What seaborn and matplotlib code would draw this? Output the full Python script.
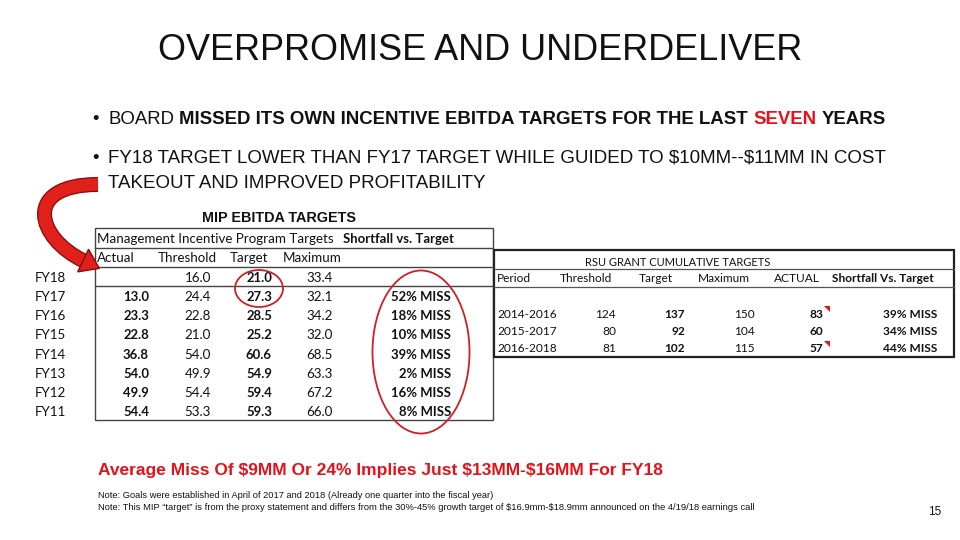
import matplotlib
matplotlib.use("Agg")
import numpy as np
import matplotlib.pyplot as plt
from matplotlib.patches import Rectangle, Ellipse, Polygon, PathPatch
from matplotlib.path import Path
import seaborn as sns

# ---------------- data ----------------
mip_years = ["FY18", "FY17", "FY16", "FY15", "FY14", "FY13", "FY12", "FY11"]
mip_actual = [None, 13.0, 23.3, 22.8, 36.8, 54.0, 49.9, 54.4]
mip_threshold = [16.0, 24.4, 22.8, 21.0, 54.0, 49.9, 54.4, 53.3]
mip_target = [21.0, 27.3, 28.5, 25.2, 60.6, 54.9, 59.4, 59.3]
mip_maximum = [33.4, 32.1, 34.2, 32.0, 68.5, 63.3, 67.2, 66.0]
mip_shortfall = [None, 52, 18, 10, 39, 2, 16, 8]

rsu_periods = ["2014-2016", "2015-2017", "2016-2018"]
rsu_threshold = [124, 80, 81]
rsu_target = [137, 92, 102]
rsu_maximum = [150, 104, 115]
rsu_actual = [83, 60, 57]
rsu_shortfall = [39, 34, 44]
rsu_flagged = [True, False, True]

title = "OVERPROMISE AND UNDERDELIVER"
bullet1 = [("BOARD ", "normal", "k"),
           ("MISSED ITS OWN INCENTIVE EBITDA TARGETS FOR THE LAST ", "bold", "k"),
           ("SEVEN", "bold", "red"),
           (" YEARS", "bold", "k")]
bullet2a = "FY18 TARGET LOWER THAN FY17 TARGET WHILE GUIDED TO $10MM--$11MM IN COST"
bullet2b = "TAKEOUT AND IMPROVED PROFITABILITY"
headline = "Average Miss Of $9MM Or 24% Implies Just $13MM-$16MM For FY18"
note1 = "Note: Goals were established in April of 2017 and 2018 (Already one quarter into the fiscal year)"
note2 = ("Note: This MIP \u201ctarget\u201d is from the proxy statement and differs from the 30%-45% "
         "growth target of $16.9mm-$18.9mm announced on the 4/19/18 earnings call")
page_no = "15"

# ---------------- style ----------------
sns.set_theme(style="white")
plt.rcParams["font.family"] = ["Liberation Sans", "DejaVu Sans"]
RED = "#E3131B"
TXT = "#111111"
TFONT = ["Lato", "DejaVu Sans"]

fig = plt.figure(figsize=(9.6, 5.4), dpi=100)
fig.patch.set_facecolor("white")
ax = fig.add_axes([0, 0, 1, 1])
ax.set_xlim(0, 960)
ax.set_ylim(540, 0)
ax.axis("off")
renderer = fig.canvas.get_renderer()
COLORS = {"k": TXT, "red": RED}


def txt(x, y, s, **kw):
    kw.setdefault("va", "baseline")
    return ax.text(x, y, s, parse_math=False, **kw)


def width_of(s, **kw):
    t = ax.text(0, 0, s, parse_math=False, **kw)
    w = t.get_window_extent(renderer).width
    t.remove()
    return w


def runs(x, y, parts, size, family):
    for s, weight, col in parts:
        kw = dict(fontsize=size, fontweight=weight, family=family)
        sp = width_of("M M", **kw) - width_of("MM", **kw)
        lead = len(s) - len(s.lstrip(" "))
        trail = len(s) - len(s.rstrip(" "))
        core = s.strip(" ")
        x += lead * sp
        txt(x, y, core, color=COLORS[col], ha="left", **kw)
        x += width_of(core, **kw) + trail * sp


# ---------------- title & bullets ----------------
BFS = 13.4
txt(480, 60, title, fontsize=25.9, color=TXT, ha="center")
txt(92, 124, "\u2022", fontsize=BFS, color=TXT, ha="left")
runs(108, 124, bullet1, BFS, ["Liberation Sans", "DejaVu Sans"])
txt(92, 163, "\u2022", fontsize=BFS, color=TXT, ha="left")
txt(108, 163, bullet2a, fontsize=13.5, color=TXT, ha="left")
txt(108, 188, bullet2b, fontsize=13.5, color=TXT, ha="left")

# ---------------- curved arrow ----------------
P0, C1, C2, P3 = (98, 184.5), (22, 184.5), (36, 238), (84, 261)
body = Path([P0, C1, C2, P3], [Path.MOVETO, Path.CURVE4, Path.CURVE4, Path.CURVE4])
px2pt = 72 / fig.dpi
ax.add_patch(PathPatch(body, fill=False, ec="#8A0A0A", lw=15 * px2pt,
                       capstyle="butt", zorder=5))
ax.add_patch(PathPatch(body, fill=False, ec="#E0201B", lw=12.5 * px2pt,
                       capstyle="butt", zorder=5))
d = np.array(P3, float) - np.array(C2, float)
d /= np.hypot(*d)
nrm = np.array([-d[1], d[0]])
base = np.array(P3, float) - 1.0 * d
head = [base + 12.5 * nrm, base + 18 * d, base - 12.5 * nrm]
ax.add_patch(Polygon(head, closed=True, fc="#E0201B", ec="#8A0A0A", lw=1.0, zorder=6))

# ---------------- MIP table ----------------
txt(279, 222, "MIP EBITDA TARGETS", fontsize=10.4, fontweight="bold",
    color=TXT, ha="center")
L, R, T, B = 95, 493, 228, 420
ax.add_patch(Rectangle((L, T), R - L, B - T, fill=False, ec="#444444", lw=1.0))
for yy in (248, 267, 286):
    ax.plot([L, R], [yy, yy], color="#444444", lw=1.0)

tk = dict(fontsize=9.6, family=TFONT, color=TXT)
tb = dict(fontsize=9.45, family=TFONT, color=TXT, fontweight="bold")
txt(97, 243, "Management Incentive Program Targets", ha="left", **tk)
txt(343, 243, "Shortfall vs. Target", ha="left", **tb)
txt(97, 262, "Actual", ha="left", **tk)
txt(158, 262, "Threshold", ha="left", **tk)
txt(230, 262, "Target", ha="left", **tk)
txt(283, 262, "Maximum", ha="left", **tk)

row_base = [281.5] + [301 + 19.17 * i for i in range(7)]
for i, yr in enumerate(mip_years):
    yb = row_base[i]
    txt(35, yb, yr, ha="left", **tk)
    if mip_actual[i] is not None:
        txt(149, yb, f"{mip_actual[i]:.1f}", ha="right", **tb)
    txt(211, yb, f"{mip_threshold[i]:.1f}", ha="right", **tk)
    txt(272, yb, f"{mip_target[i]:.1f}", ha="right", **tb)
    txt(333, yb, f"{mip_maximum[i]:.1f}", ha="right", **tk)
    if mip_shortfall[i] is not None:
        txt(451, yb, f"{mip_shortfall[i]}% MISS", ha="right", **tb)

ax.add_patch(Ellipse((259, 288.5), 48, 37, fill=False, ec="#CC2026", lw=1.3, zorder=6))
ax.add_patch(Ellipse((421, 352), 97, 163, fill=False, ec="#CC2026", lw=1.3, zorder=6))

# ---------------- RSU table ----------------
rL, rR, rT, rB = 494, 954, 250, 357
ax.add_patch(Rectangle((rL, rT), rR - rL, rB - rT, fill=False, ec="#222222", lw=1.6))
for yy in (269, 287):
    ax.plot([rL, rR], [yy, yy], color="#555555", lw=0.9)
rk = dict(fontsize=8.6, family=TFONT, color=TXT)
rb = dict(fontsize=8.6, family=TFONT, color=TXT, fontweight="bold")
txt(678, 265.5, "RSU GRANT CUMULATIVE TARGETS", ha="center", fontsize=8.0,
    family=TFONT, color=TXT)
txt(497, 282.5, "Period", ha="left", **rk)
txt(560, 282.5, "Threshold", ha="left", **rk)
txt(639, 282.5, "Target", ha="left", **rk)
txt(698, 282.5, "Maximum", ha="left", **rk)
txt(774, 282.5, "ACTUAL", ha="left", **rk)
txt(832, 282.5, "Shortfall Vs. Target", ha="left", **rb)

rsu_base = [317.5, 335, 352.5]
for i, p in enumerate(rsu_periods):
    yb = rsu_base[i]
    txt(497, yb, p, ha="left", **rk)
    txt(616, yb, f"{rsu_threshold[i]}", ha="right", **rk)
    txt(685, yb, f"{rsu_target[i]}", ha="right", **rb)
    txt(755, yb, f"{rsu_maximum[i]}", ha="right", **rk)
    txt(823, yb, f"{rsu_actual[i]}", ha="right", **rb)
    txt(937, yb, f"{rsu_shortfall[i]}% MISS", ha="right", **rb)
    if rsu_flagged[i]:
        ax.add_patch(Polygon([(824, yb - 12), (830, yb - 12), (830, yb - 6)],
                             closed=True, fc=RED, ec="none"))

# ---------------- footer ----------------
txt(98, 475, headline, fontsize=12.55, fontweight="bold", color=RED, ha="left")
txt(98, 497.5, note1, fontsize=6.7, color=TXT, ha="left")
txt(98, 510, note2, fontsize=6.78, color=TXT, ha="left")
txt(935, 515, page_no, fontsize=8.5, color=TXT, ha="center")

fig.savefig("out.png", dpi=100, facecolor="white")
